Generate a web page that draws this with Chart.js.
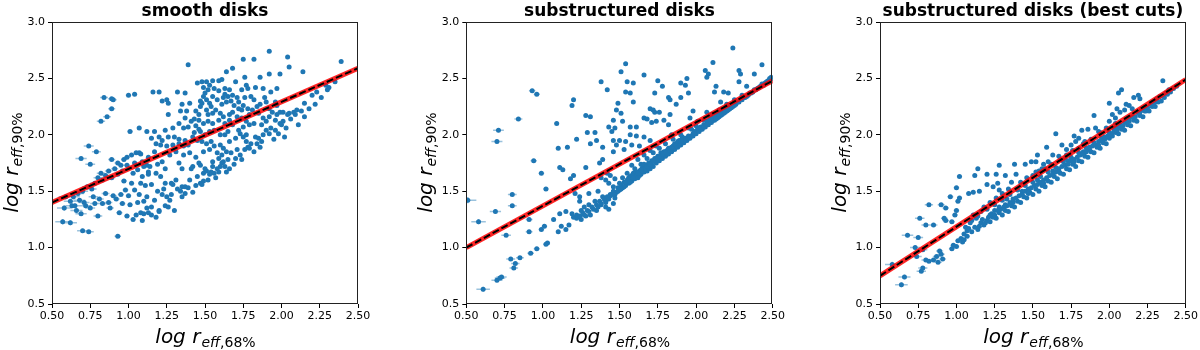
<!DOCTYPE html>
<html>
<head>
<meta charset="utf-8">
<script src="https://cdn.jsdelivr.net/npm/chart.js@4.4.1/dist/chart.umd.min.js"></script>
<style>
  html, body { margin: 0; padding: 0; background: #fff; }
  .panel { position: absolute; top: 0; width: 400px; height: 350px; }
</style>
</head>
<body>
<canvas id="c1" class="panel" width="400" height="350" style="left:0px"></canvas>
<canvas id="c2" class="panel" width="400" height="350" style="left:400px"></canvas>
<canvas id="c3" class="panel" width="400" height="350" style="left:800px"></canvas>
<script>
// ============================================================
//  log r_eff,90% vs log r_eff,68%  — three panels
// ============================================================

const X_TICKS = [0.5, 0.75, 1.0, 1.25, 1.5, 1.75, 2.0, 2.25, 2.5];
const Y_TICKS = [0.5, 1.0, 1.5, 2.0, 2.5, 3.0];

const TITLES = ['smooth disks', 'substructured disks', 'substructured disks (best cuts)'];

// fitted relation, value at x = 0.5 and x = 2.5
const FIT_X  = [0.5, 2.5];
const FIT_1  = [1.40, 2.59];
const FIT_2  = [1.00, 2.48];
const FIT_3  = [0.75, 2.49];

// ─── smooth disks ─────────────────────────────────────────────
const smoothPts = [
  [1.39,2.62],[1.45,2.46],[1.48,2.47],[1.16,2.38],[1.20,2.38],[1.32,2.38],[1.37,2.37],[1.00,2.35],[1.04,2.36],
  [0.84,2.33],[0.89,2.32],[0.90,2.31],[1.22,2.30],[1.25,2.31],[1.26,2.28],[1.35,2.27],[1.40,2.28],[1.47,2.30],
  [0.89,2.23],[1.26,2.18],[1.34,2.21],[1.38,2.21],[1.44,2.21],[1.46,2.18],[0.86,2.16],[0.82,2.12],[1.37,2.15],
  [1.43,2.14],[1.46,2.13],[1.33,2.10],[1.29,2.06],[1.24,2.04],[1.36,2.06],[1.39,2.07],[1.44,2.08],[1.46,2.05],
  [1.07,2.06],[1.01,2.03],[1.12,2.03],[1.17,2.03],[1.15,1.97],[1.20,1.98],[1.22,1.95],[1.26,1.98],[1.30,1.98],
  [1.33,1.96],[1.37,1.95],[1.42,1.98],[1.45,1.95],[1.18,1.92],[1.21,1.91],[1.25,1.90],[1.29,1.91],[1.33,1.92],
  [1.36,1.90],[1.39,1.91],[0.74,1.90],[0.79,1.85],[0.69,1.79],[0.75,1.74],[1.07,1.84],[1.02,1.82],[0.99,1.80],
  [0.97,1.78],[0.95,1.73],[0.99,1.73],[0.89,1.78],[0.93,1.75],[1.09,1.76],[1.12,1.73],[1.14,1.72],[1.19,1.74],
  [1.22,1.76],[1.24,1.70],[1.33,1.75],[1.35,1.70],[1.42,1.72],[1.46,1.75],[0.85,1.64],[0.89,1.62],[0.93,1.65],
  [0.83,1.60],[0.78,1.57],[0.73,1.54],[0.76,1.52],[1.03,1.66],[1.09,1.63],[1.13,1.65],[1.18,1.66],[1.21,1.63],
  [0.97,1.59],[1.02,1.57],[1.08,1.57],[1.11,1.55],[1.15,1.56],[1.24,1.57],[1.28,1.57],[1.35,1.54],[1.39,1.53],
  [1.44,1.55],[1.47,1.57],[0.59,1.45],[0.64,1.45],[0.68,1.42],[0.71,1.40],[0.85,1.48],[0.90,1.46],[0.95,1.47],
  [1.00,1.46],[0.78,1.39],[0.83,1.39],[0.87,1.40],[0.72,1.37],[0.75,1.35],[0.96,1.39],[1.01,1.38],[1.06,1.40],
  [1.10,1.41],[1.22,1.47],[1.25,1.45],[1.28,1.47],[1.35,1.45],[1.37,1.48],[1.15,1.36],[1.20,1.33],[1.24,1.37],
  [1.26,1.36],[0.58,1.35],[0.63,1.37],[0.65,1.37],[0.94,1.31],[0.99,1.28],[1.05,1.29],[1.08,1.31],[1.10,1.30],
  [1.13,1.31],[1.15,1.29],[1.20,1.32],[0.80,1.28],[0.57,1.23],[0.62,1.22],[0.70,1.15],[0.74,1.14],[0.93,1.10],
  [1.03,1.25],[1.09,1.24],[1.34,1.50],[1.37,1.54],[1.29,1.56],[1.45,1.63],[1.49,1.66],[1.41,1.70],[1.05,1.84],
  [1.08,1.83],[1.10,1.72],[1.13,1.67],
  [1.92,2.74],[1.75,2.67],[1.82,2.67],[2.04,2.69],[2.05,2.60],[2.39,2.65],[1.68,2.59],[1.64,2.56],[1.92,2.54],
  [1.99,2.54],[2.14,2.56],[1.76,2.51],[1.55,2.48],[1.59,2.48],[1.61,2.49],[1.51,2.47],[1.70,2.47],[1.86,2.51],
  [1.83,2.42],[1.88,2.41],[1.97,2.41],[1.93,2.38],[1.63,2.41],[1.59,2.39],[1.56,2.41],[1.53,2.44],[1.52,2.40],
  [1.49,2.42],[1.77,2.44],[1.78,2.41],[1.74,2.40],[1.68,2.35],[1.65,2.34],[1.62,2.33],[1.71,2.33],[1.64,2.29],
  [1.67,2.30],[1.80,2.34],[1.82,2.31],[1.89,2.33],[1.90,2.29],[1.96,2.29],[1.49,2.34],[1.51,2.31],[1.48,2.28],
  [1.53,2.28],[1.55,2.34],[1.58,2.31],[2.30,2.40],[2.29,2.44],[2.35,2.47],[2.23,2.38],[2.31,2.42],[2.15,2.28],
  [1.75,2.26],[1.72,2.23],[1.74,2.22],[1.78,2.23],[1.84,2.25],[1.86,2.27],[1.92,2.23],[1.97,2.26],[1.99,2.20],
  [1.51,2.22],[1.52,2.18],[1.55,2.19],[1.60,2.19],[1.62,2.16],[1.66,2.18],[1.68,2.20],[1.71,2.16],[1.74,2.15],
  [2.01,2.20],[2.05,2.19],[2.08,2.20],[2.10,2.22],[2.09,2.18],[2.04,2.18],[1.88,2.15],[1.92,2.16],[1.96,2.13],
  [1.99,2.10],[2.01,2.12],[2.00,2.09],[2.15,2.16],[1.49,2.10],[1.52,2.12],[1.55,2.10],[1.59,2.13],[1.63,2.10],
  [1.66,2.13],[1.68,2.09],[1.77,2.12],[1.79,2.09],[1.82,2.10],[1.75,2.07],[1.72,2.04],[1.90,2.04],[1.93,2.06],
  [1.96,2.04],[1.88,2.00],[1.92,2.01],[1.47,2.03],[1.50,2.00],[1.53,2.03],[1.56,2.04],[1.60,2.00],[1.63,2.00],
  [1.65,2.03],[1.73,2.01],[1.75,1.98],[1.77,2.00],[1.70,1.97],[1.66,1.94],[1.83,1.98],[1.85,1.97],[1.87,1.94],
  [1.80,1.92],[1.84,1.92],[1.77,1.94],[1.78,1.89],[1.76,1.87],[1.79,1.88],[1.48,1.94],[1.51,1.92],[1.54,1.94],
  [1.56,1.90],[1.60,1.91],[1.62,1.88],[1.49,1.85],[1.53,1.87],[1.58,1.84],[1.61,1.82],[1.64,1.85],[1.67,1.84],
  [1.71,1.87],[1.73,1.82],[1.70,1.79],[1.65,1.78],[1.62,1.76],[1.59,1.79],[1.61,1.75],[1.60,1.72],[1.63,1.72],
  [1.55,1.76],[1.58,1.70],[1.54,1.67],[1.56,1.66],[1.53,1.65],[1.59,1.67],[1.51,1.68],[1.47,1.73],[1.49,1.59],
  [1.48,1.56],
  [1.41,2.12],[1.43,2.02],[1.47,2.25],[1.50,2.37],[1.54,2.25],[1.57,2.22],[1.61,2.27],[1.63,2.36],[1.66,2.40],
  [1.69,2.26],[1.72,2.29],[1.76,2.33],[1.79,2.18],[1.81,2.22],[1.85,2.19],[1.87,2.09],[1.90,2.12],[1.94,2.20],
  [1.97,2.18],[2.03,2.06],[2.06,2.14],[2.11,2.09],[2.13,2.21],[2.18,2.23],[1.95,1.96],[1.98,2.01],[2.02,1.98],
  [1.86,1.89],[1.82,1.85],[1.74,1.78],[1.69,1.74],[1.66,1.70],[1.64,1.67],[1.57,1.62],[1.52,1.60],[1.50,1.70],
  [1.55,1.72],[1.44,1.80],[1.40,1.84],[1.36,1.82],[1.31,1.85],[1.27,1.82],[1.17,1.85],[1.13,1.80],[1.04,1.75],
  [1.06,1.69],[0.96,1.68],[0.91,1.70],[0.87,1.68],[0.82,1.66],[0.80,1.62],[0.70,1.50],[0.67,1.48],[0.62,1.41],
  [0.66,1.33],[0.69,1.30],[0.77,1.45],[0.81,1.43],[0.88,1.35],[0.92,1.43],[0.98,1.51],[1.04,1.51],[1.07,1.47],
  [1.12,1.45],[1.17,1.42],[1.19,1.50],[1.23,1.52],[1.31,1.60],[1.32,1.52],[1.27,1.42],[1.30,1.33],[1.18,1.27],
  [1.12,1.35],[1.40,1.60],[1.42,1.49],[2.22,2.27],[2.26,2.33],[2.20,2.35],
];

// ─── substructured disks ──────────────────────────────────────
const subPts = [
  [1.38,2.47],[0.93,2.39],[0.96,2.36],[1.42,2.40],[1.20,2.31],[1.19,2.26],[0.84,2.14],[1.09,2.10],[0.71,2.04],
  [0.70,1.94],[1.28,2.17],[1.31,2.16],[1.43,2.07],[1.45,2.03],[1.22,1.96],[1.29,2.02],[1.34,2.02],[1.31,1.92],
  [1.35,1.95],[1.39,1.89],[1.46,1.95],[1.10,1.88],[1.16,1.89],[0.94,1.77],[1.11,1.71],[1.13,1.69],[1.28,1.71],
  [1.39,1.78],[1.37,1.75],[0.99,1.66],[1.20,1.64],[1.18,1.61],[1.02,1.52],[0.51,1.42],[0.80,1.47],[0.80,1.37],
  [0.69,1.32],[0.58,1.23],[0.76,1.11],[0.91,1.25],[0.91,1.14],[0.99,1.16],[1.01,1.19],[1.07,1.25],[1.03,1.04],
  [1.02,1.03],[0.96,0.99],[0.92,0.95],[0.79,0.90],[0.85,0.91],[0.82,0.86],[0.81,0.82],[0.73,0.74],[0.70,0.71],
  [0.72,0.73],[0.61,0.63],[1.11,1.30],[1.15,1.32],[1.19,1.30],[1.12,1.19],[1.15,1.16],[1.17,1.20],[1.10,1.14],
  [1.24,1.41],[1.27,1.36],[1.25,1.33],[1.30,1.38],[1.28,1.28],[1.31,1.29],[1.35,1.33],[1.34,1.41],[1.21,1.48],
  [1.24,1.45],[1.30,1.48],[1.36,1.50],[1.39,1.45],[1.41,1.41],[1.44,1.47],[1.47,1.44],[1.38,1.38],[1.41,1.36],
  [1.46,1.39],[1.43,1.34],[1.41,1.60],[1.43,1.57],[1.46,1.54],[1.47,1.61],[1.22,1.26],[1.25,1.25],[1.38,1.62],
  [1.42,1.66],[1.44,1.64],
  [2.24,2.77],[1.54,2.63],[2.11,2.64],[2.43,2.62],[1.51,2.56],[1.66,2.53],[2.06,2.57],[2.08,2.54],[2.28,2.57],
  [2.29,2.54],[2.38,2.54],[1.55,2.47],[1.59,2.46],[1.75,2.48],[1.94,2.50],[1.90,2.46],[1.93,2.44],[1.54,2.38],
  [1.57,2.37],[1.73,2.37],[1.78,2.43],[1.95,2.37],[2.07,2.51],[2.13,2.43],[2.28,2.47],[2.33,2.43],[1.59,2.29],
  [1.49,2.28],[1.48,2.22],[1.51,2.19],[1.46,2.13],[1.82,2.33],[1.83,2.31],[1.87,2.27],[1.90,2.33],[2.12,2.38],
  [2.18,2.38],[2.21,2.37],[2.16,2.29],[1.70,2.23],[1.72,2.22],[1.73,2.20],[1.76,2.20],[1.83,2.18],[1.98,2.21],
  [2.07,2.20],[1.66,2.15],[1.68,2.14],[1.71,2.11],[1.74,2.12],[1.79,2.13],[1.82,2.09],[1.96,2.15],[2.01,2.12],
  [1.52,2.12],[1.57,2.07],[1.47,2.06],[1.61,2.07],[1.57,2.00],[1.61,1.99],[1.66,1.98],[1.70,1.95],[1.54,1.94],
  [1.50,1.95],[1.48,1.91],[1.58,1.91],[1.46,1.85],[1.53,1.87],[1.63,1.90],[1.84,2.00],[1.91,1.98],[1.98,2.01],
  [1.20,1.27],[1.22,1.29],[1.24,1.28],[1.26,1.31],[1.27,1.29],[1.29,1.33],[1.30,1.32],[1.32,1.36],[1.33,1.34],
  [1.35,1.38],[1.36,1.36],[1.37,1.41],[1.38,1.39],[1.40,1.43],[1.41,1.40],[1.42,1.45],[1.43,1.43],[1.44,1.46],
  [1.45,1.47],[1.46,1.50],[1.48,1.49],[1.49,1.53],[1.50,1.51],[1.51,1.55],[1.52,1.53],[1.53,1.58],[1.54,1.55],
  [1.55,1.60],[1.56,1.57],[1.57,1.63],[1.58,1.59],[1.59,1.66],[1.60,1.61],[1.61,1.64],[1.62,1.62],[1.63,1.68],
  [1.64,1.65],[1.65,1.71],[1.66,1.67],[1.67,1.73],[1.68,1.68],[1.69,1.75],[1.70,1.70],[1.71,1.77],[1.72,1.72],
  [1.73,1.79],[1.74,1.75],[1.75,1.81],[1.76,1.77],[1.77,1.84],[1.78,1.79],[1.79,1.82],[1.80,1.81],[1.81,1.86],
  [1.82,1.83],[1.83,1.88],[1.84,1.85],[1.85,1.90],[1.86,1.87],[1.87,1.92],[1.88,1.89],[1.89,1.95],[1.90,1.91],
  [1.91,1.96],[1.92,1.93],[1.93,1.97],[1.94,1.95],[1.95,1.99],[1.96,1.97],[1.97,2.05],[1.98,1.99],[1.99,2.03],
  [2.00,2.01],[2.01,2.04],[2.02,2.03],[2.03,2.07],[2.04,2.05],[2.05,2.09],[2.06,2.07],[2.07,2.12],[2.08,2.09],
  [2.09,2.11],[2.10,2.11],[2.11,2.15],[2.12,2.13],[2.13,2.17],[2.14,2.15],[2.15,2.19],[2.16,2.17],[2.17,2.21],
  [2.18,2.19],[2.19,2.22],[2.20,2.21],[2.21,2.24],[2.22,2.23],[2.23,2.26],[2.24,2.25],[2.25,2.28],[2.26,2.27],
  [2.27,2.29],[2.28,2.29],[2.30,2.31],[2.31,2.33],[2.32,2.33],[2.34,2.35],[2.35,2.37],[2.37,2.38],[2.38,2.40],
  [2.40,2.41],[2.42,2.43],[2.44,2.44],[2.45,2.46],[2.47,2.48],[2.48,2.50],[2.49,2.51],[2.50,2.50],
  [1.52,1.62],[1.55,1.66],[1.60,1.70],[1.64,1.74],[1.68,1.79],[1.72,1.84],[1.76,1.88],[1.80,1.92],[1.85,1.96],
  [1.90,2.00],[1.95,2.06],[2.00,2.08],[2.05,2.13],[2.10,2.18],[2.15,2.22],[2.20,2.27],[2.25,2.31],[2.30,2.35],
  [1.62,1.78],[1.70,1.86],[1.74,1.90],[1.66,1.82],[1.58,1.73],
  [1.50,1.57],[1.53,1.54],[1.56,1.62],[1.58,1.64],[1.61,1.67],[1.63,1.64],[1.65,1.68],[1.67,1.70],[1.69,1.71],
  [1.71,1.73],[1.73,1.76],[1.75,1.78],[1.77,1.80],[1.79,1.85],[1.81,1.83],[1.83,1.86],[1.85,1.88],[1.87,1.90],
  [1.89,1.91],[1.91,1.94],[1.93,1.95],[1.95,1.97],[1.97,1.99],[1.99,2.01],[2.01,2.06],[2.03,2.05],[2.05,2.07],
  [2.07,2.09],[2.09,2.14],[2.11,2.13],[2.13,2.14],[2.15,2.16],[2.17,2.18],[2.19,2.20],[2.21,2.22],[2.23,2.24],
  [2.25,2.26],[2.29,2.31],[2.33,2.34],[2.36,2.37],[2.39,2.40],[2.41,2.42],[2.43,2.45],[2.46,2.47],[1.47,1.47],
  [1.49,1.50],[1.51,1.52],[1.54,1.58],[1.57,1.58],[1.59,1.62],[1.62,1.66],[1.64,1.69],[1.66,1.74],[1.68,1.72],
  [1.70,1.74],[1.72,1.77],[1.74,1.79],[1.76,1.81],[1.78,1.83],[1.80,1.85],[1.82,1.88],[1.84,1.89],[1.86,1.92],
  [1.88,1.94],[1.90,1.95],
];

// ─── substructured disks (best cuts) ──────────────────────────
const bestPts = [
  [2.35,2.48],[2.08,2.40],[2.06,2.37],[2.19,2.35],[2.20,2.32],[2.16,2.33],[2.00,2.28],[2.11,2.27],[2.13,2.26],
  [2.05,2.23],[2.07,2.20],[1.90,2.17],[2.02,2.18],[2.04,2.15],[2.00,2.12],[2.10,2.22],[2.15,2.23],[1.65,2.01],
  [1.82,2.04],[1.86,2.05],[1.91,2.06],[1.93,2.03],[1.77,1.99],[1.80,1.97],[1.69,1.91],[1.75,1.91],[1.72,1.87],
  [1.78,1.94],[1.83,1.92],[1.59,1.89],[1.53,1.82],[1.63,1.82],[1.67,1.81],[1.71,1.79],[1.45,1.74],[1.49,1.76],
  [1.52,1.76],[1.57,1.74],[1.60,1.76],[1.56,1.70],[1.52,1.67],[1.38,1.74],[1.28,1.73],[1.14,1.70],[1.20,1.65],
  [1.26,1.65],[1.32,1.64],[1.39,1.65],[1.02,1.63],[1.12,1.64],[1.20,1.56],[1.24,1.54],[1.27,1.57],[1.28,1.51],
  [1.15,1.50],[1.11,1.49],[1.08,1.48],[1.00,1.53],[0.96,1.45],[1.02,1.44],[1.01,1.41],[0.82,1.38],[0.90,1.38],
  [0.93,1.35],[0.76,1.26],[0.80,1.20],[0.85,1.20],[0.92,1.26],[0.93,1.24],[1.00,1.33],[0.99,1.29],[0.97,1.23],
  [0.68,1.11],[0.75,1.09],[0.73,1.00],[0.78,0.98],[0.74,0.92],[0.80,0.89],[0.82,0.88],[0.78,0.82],[0.77,0.79],
  [0.58,0.85],[0.66,0.74],[0.64,0.67],[0.87,0.92],[0.90,0.94],[0.89,0.97],[0.97,0.99],[1.00,1.01],[1.04,1.05],
  [1.08,1.17],[1.09,1.22],[1.13,1.26],[1.11,1.29],[1.16,1.32],[1.22,1.29],[1.25,1.33],[1.28,1.36],[1.32,1.38],
  [0.98,1.02],[1.01,1.06],[1.03,1.08],[1.05,1.07],[1.07,1.10],[0.85,0.89],[0.91,0.90],[0.88,0.87],
  [1.10,1.14],[1.12,1.18],[1.14,1.16],[1.16,1.22],[1.18,1.20],[1.20,1.24],[1.22,1.23],[1.24,1.27],[1.26,1.26],
  [1.28,1.31],[1.30,1.29],[1.32,1.33],[1.34,1.32],[1.36,1.37],[1.38,1.36],[1.40,1.41],[1.42,1.40],[1.44,1.45],
  [1.46,1.44],[1.48,1.49],[1.50,1.47],[1.52,1.52],[1.54,1.50],[1.56,1.55],[1.58,1.54],[1.60,1.59],[1.62,1.58],
  [1.64,1.63],[1.66,1.61],[1.68,1.66],[1.70,1.65],[1.72,1.70],[1.74,1.69],[1.76,1.74],[1.78,1.72],[1.80,1.77],
  [1.82,1.76],[1.84,1.81],[1.86,1.80],[1.88,1.85],[1.90,1.84],[1.92,1.89],[1.94,1.88],[1.96,1.93],[1.98,1.92],
  [2.00,1.97],[2.02,1.99],[2.04,2.02],[2.06,2.01],[2.08,2.05],[2.10,2.04],[2.12,2.09],[2.14,2.08],[2.16,2.13],
  [2.18,2.12],[2.20,2.17],[2.22,2.16],[2.24,2.21],[2.26,2.21],[2.28,2.25],[2.30,2.25],[2.32,2.29],[2.34,2.30],
  [2.36,2.33],[2.38,2.36],[2.40,2.38],[2.42,2.41],[2.44,2.43],
  [1.20,1.34],[1.25,1.38],[1.30,1.42],[1.35,1.47],[1.40,1.51],[1.45,1.55],[1.50,1.58],[1.55,1.63],[1.60,1.67],
  [1.65,1.71],[1.70,1.76],[1.75,1.80],[1.80,1.84],[1.85,1.88],[1.90,1.93],[1.95,1.97],[2.00,2.02],[2.05,2.06],
  [2.10,2.11],[2.15,2.16],[2.20,2.20],[2.25,2.24],[2.30,2.29],[1.33,1.43],[1.43,1.50],[1.53,1.60],[1.63,1.68],
  [1.73,1.77],[1.83,1.85],[1.93,1.94],[2.03,2.03],[2.13,2.12],[2.23,2.21],[1.37,1.40],[1.47,1.52],[1.57,1.60],
  [1.67,1.68],[1.77,1.78],[1.87,1.87],[1.97,1.96],[2.07,2.07],
  [1.15,1.19],[1.17,1.25],[1.19,1.22],[1.21,1.27],[1.23,1.30],[1.25,1.29],[1.27,1.33],[1.29,1.34],[1.31,1.36],
  [1.33,1.37],[1.35,1.40],[1.37,1.43],[1.39,1.44],[1.41,1.46],[1.43,1.47],[1.45,1.50],[1.47,1.48],[1.49,1.53],
  [1.51,1.55],[1.53,1.56],[1.55,1.58],[1.57,1.57],[1.59,1.62],[1.61,1.64],[1.63,1.65],[1.65,1.67],[1.67,1.70],
  [1.69,1.72],[1.71,1.73],[1.73,1.74],[1.75,1.77],[1.77,1.76],[1.79,1.80],[1.81,1.82],[1.83,1.83],[1.85,1.85],
  [1.87,1.89],[1.89,1.90],[1.91,1.91],[1.93,1.91],[1.95,1.95],[1.97,1.98],[1.99,1.99],[2.01,2.01],[2.03,2.06],
  [2.05,2.04],[2.07,2.09],[2.09,2.08],[2.11,2.13],[2.13,2.14],[2.17,2.16],[2.19,2.19],[2.21,2.22],[2.23,2.24],
  [2.27,2.27],[2.29,2.28],[2.31,2.32],[2.33,2.34],[2.37,2.37],[2.39,2.40],[1.05,1.12],[1.07,1.15],[1.06,1.18],
  [1.10,1.24],[1.14,1.28],[1.18,1.36],[1.22,1.40],[1.26,1.44],[1.30,1.48],[1.34,1.52],[1.36,1.58],[1.42,1.58],
  [1.46,1.62],[1.50,1.64],[1.54,1.68],[1.58,1.70],[1.62,1.74],[1.68,1.78],[1.72,1.82],[1.76,1.86],[1.80,1.88],
  [1.84,1.94],[1.88,1.96],[1.94,2.02],[1.98,2.06],[2.04,2.10],
];

const PANELS = [
  { id: 'c1', title: TITLES[0], pts: smoothPts, fit: FIT_1, padL: 0,    padR: 42   },
  { id: 'c2', title: TITLES[1], pts: subPts,    fit: FIT_2, padL: 14.3, padR: 27.3 },
  { id: 'c3', title: TITLES[2], pts: bestPts,   fit: FIT_3, padL: 28,   padR: 13.3 },
];

const BLUE    = '#1f77b4';
const ERR_COL = 'rgba(31,119,180,0.45)';
const FONT    = 'DejaVu Sans';

// whisker half-length grows for small radii (style only)
const ERR_KX = 0.18;
const ERR_KY = 0.09;

// ─── Plugins ──────────────────────────────────────────────────
const errorBars = {
  id: 'errorBars',
  beforeDatasetsDraw(chart) {
    const { ctx, chartArea: a, scales: { x, y } } = chart;
    const pts = chart.data.datasets[0].data;
    ctx.save();
    ctx.beginPath();
    ctx.rect(a.left, a.top, a.right - a.left, a.bottom - a.top);
    ctx.clip();
    ctx.strokeStyle = ERR_COL;
    ctx.lineWidth = 1.5;
    ctx.beginPath();
    pts.forEach(p => {
      const ex = ERR_KX * Math.pow(10, -p.x);
      const ey = ERR_KY * Math.pow(10, -p.x);
      const py = y.getPixelForValue(p.y);
      const px = x.getPixelForValue(p.x);
      ctx.moveTo(x.getPixelForValue(p.x - ex), py);
      ctx.lineTo(x.getPixelForValue(p.x + ex), py);
      ctx.moveTo(px, y.getPixelForValue(p.y - ey));
      ctx.lineTo(px, y.getPixelForValue(p.y + ey));
    });
    ctx.stroke();
    ctx.restore();
  }
};

function drawAxisLabel(ctx, cx, cy, sub) {
  const main = 'log r';
  ctx.font = `italic 20px ${FONT}`;
  const wMain = ctx.measureText(main).width;
  ctx.font = `italic 14px ${FONT}`;
  const wEff = ctx.measureText('eff').width;
  ctx.font = `14px ${FONT}`;
  const wRest = ctx.measureText(sub).width;
  let xPos = cx - (wMain + wEff + wRest) / 2;
  ctx.textAlign = 'left';
  ctx.textBaseline = 'alphabetic';
  ctx.fillStyle = '#000';
  ctx.font = `italic 20px ${FONT}`;
  ctx.fillText(main, xPos, cy);
  xPos += wMain + 1;
  ctx.font = `italic 14px ${FONT}`;
  ctx.fillText('eff', xPos, cy + 4);
  xPos += wEff;
  ctx.font = `14px ${FONT}`;
  ctx.fillText(sub, xPos, cy + 4);
}

const decorations = {
  id: 'decorations',
  afterDraw(chart, args, opts) {
    const { ctx, chartArea: a } = chart;
    ctx.save();
    // frame
    ctx.strokeStyle = '#222';
    ctx.lineWidth = 1;
    ctx.strokeRect(Math.round(a.left) + 0.5, Math.round(a.top) + 0.5,
                   Math.round(a.right - a.left) - 1, Math.round(a.bottom - a.top) - 1);
    // title
    ctx.fillStyle = '#000';
    ctx.font = `bold 17px ${FONT}`;
    ctx.textAlign = 'center';
    ctx.textBaseline = 'alphabetic';
    ctx.fillText(opts.title, (a.left + a.right) / 2, 15.5);
    // x axis title
    drawAxisLabel(ctx, (a.left + a.right) / 2, a.bottom + 39, ',68%');
    // y axis title
    ctx.translate(a.left - 34.5, (a.top + a.bottom) / 2);
    ctx.rotate(-Math.PI / 2);
    drawAxisLabel(ctx, 0, 0, ',90%');
    ctx.restore();
  }
};

// ─── Panel render ─────────────────────────────────────────────
function renderPanel(p) {
  const fitData = FIT_X.map((v, i) => ({ x: v, y: p.fit[i] }));
  const tickFont = { family: FONT, size: 11 };

  new Chart(document.getElementById(p.id), {
    type: 'scatter',
    data: {
      datasets: [
        {
          data: p.pts.map(d => ({ x: d[0], y: d[1] })),
          pointRadius: 2.5,
          pointBackgroundColor: BLUE,
          pointBorderWidth: 0,
          order: 3,
        },
        {
          type: 'line',
          data: fitData,
          borderColor: 'rgba(255,0,0,0.85)',
          borderWidth: 5,
          pointRadius: 0,
          fill: false,
          order: 2,
        },
        {
          type: 'line',
          data: fitData,
          borderColor: '#000',
          borderWidth: 2,
          borderDash: [7, 3],
          pointRadius: 0,
          fill: false,
          order: 1,
        },
      ]
    },
    options: {
      responsive: false,
      animation: false,
      devicePixelRatio: 1,
      layout: { padding: { left: p.padL, right: p.padR, top: 22, bottom: 0 } },
      plugins: {
        legend: { display: false },
        tooltip: { enabled: false },
        decorations: { title: p.title },
      },
      scales: {
        x: {
          type: 'linear',
          min: 0.5, max: 2.5,
          afterBuildTicks: s => { s.ticks = X_TICKS.map(v => ({ value: v })); },
          afterFit: s => { s.height = 46; },
          ticks: { callback: v => v.toFixed(2), font: tickFont, color: '#000', padding: 2, maxRotation: 0, autoSkip: false },
          grid: { drawOnChartArea: false, tickLength: 4, color: '#000' },
          border: { display: false },
        },
        y: {
          type: 'linear',
          min: 0.5, max: 3.0,
          afterBuildTicks: s => { s.ticks = Y_TICKS.map(v => ({ value: v })); },
          afterFit: s => { s.width = 52; },
          ticks: { callback: v => v.toFixed(1), font: tickFont, color: '#000', padding: 3, autoSkip: false },
          grid: { drawOnChartArea: false, tickLength: 4, color: '#000' },
          border: { display: false },
        }
      }
    },
    plugins: [errorBars, decorations]
  });
}

PANELS.forEach(renderPanel);
</script>
</body>
</html>
